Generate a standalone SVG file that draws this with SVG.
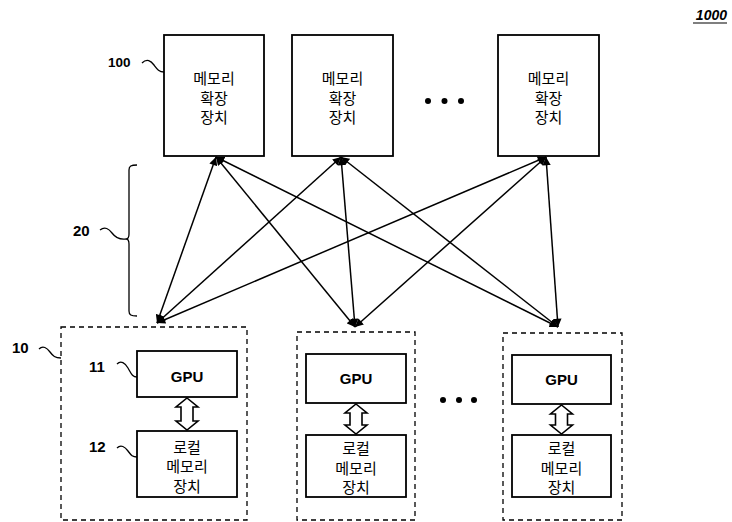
<svg xmlns="http://www.w3.org/2000/svg" width="732" height="522" viewBox="0 0 732 522">
<style>
.box{fill:#fff;stroke:#000;stroke-width:1.8}
.dash{fill:none;stroke:#000;stroke-width:1.3;stroke-dasharray:5 4}
.kr{font-family:"Noto Sans CJK KR","Noto Sans",sans-serif;font-size:15px;text-anchor:middle;fill:#000}
.gpu{font-family:"Liberation Sans",Arial,sans-serif;font-size:15px;font-weight:bold;text-anchor:middle}
.lbl{font-family:"Liberation Sans",Arial,sans-serif;font-size:15px;font-weight:bold}
.sq{fill:none;stroke:#000;stroke-width:1.3}
.ln{stroke:#000;stroke-width:1.5;fill:none;marker-start:url(#ah);marker-end:url(#ah)}
.blk{fill:#fff;stroke:#000;stroke-width:1.6;stroke-linejoin:miter}
</style>
<defs>
<marker id="ah" viewBox="0 0 10 10" refX="10" refY="5" markerWidth="6" markerHeight="5.5" orient="auto-start-reverse" markerUnits="strokeWidth">
<path d="M0,0 L10,5 L0,10 Z" fill="#000"/>
</marker>
</defs>

<text x="727" y="20" font-family="Liberation Sans, Arial, sans-serif" font-size="14" font-weight="bold" font-style="italic" text-anchor="end">1000</text>
<line x1="693" y1="23" x2="727" y2="23" stroke="#000" stroke-width="1.2"/>

<g id="mem1">
<rect class="box" x="164" y="35" width="100" height="121"/>
<text class="kr" x="214" y="84">메모리</text>
<text class="kr" x="214" y="104">확장</text>
<text class="kr" x="214" y="123">장치</text>
</g>
<g id="mem2">
<rect class="box" x="292" y="35" width="101" height="121"/>
<text class="kr" x="342.5" y="84">메모리</text>
<text class="kr" x="342.5" y="104">확장</text>
<text class="kr" x="342.5" y="123">장치</text>
</g>
<g id="mem3">
<rect class="box" x="498" y="35" width="101" height="121"/>
<text class="kr" x="548.5" y="84">메모리</text>
<text class="kr" x="548.5" y="104">확장</text>
<text class="kr" x="548.5" y="123">장치</text>
</g>
<g id="dots-top">
<circle cx="428" cy="101" r="3"/>
<circle cx="444.5" cy="101" r="3"/>
<circle cx="461" cy="101" r="3"/>
</g>

<g id="label-100">
<text x="108" y="67" font-family="Liberation Sans, Arial, sans-serif" font-size="13.5" font-weight="bold">100</text>
<path class="sq" d="M142,63 C147,58 151,61 154,65 S159,72 164,72"/>
</g>

<g id="label-20">
<text class="lbl" x="73" y="236">20</text>
<path class="sq" d="M100,230 C105,226 109,229 112,233 S119,240 126,239"/>
<path class="sq" d="M137,165 C131,165 129,166 129,170 L129,234 C129,237 128,239 126,239 C128,239 129,241 129,244 L129,311 C129,315 131,316 137,316"/>
</g>

<g id="gpuA">
<rect class="dash" x="61" y="327" width="186" height="193"/>
<rect class="box" x="137" y="351" width="100" height="46"/>
<text class="gpu" x="187" y="382">GPU</text>
<path class="blk" d="M187,398 L198,407 L193,407 L193,421 L198,421 L187,430 L176,421 L181,421 L181,407 L176,407 Z"/>
<rect class="box" x="137" y="431" width="100" height="66"/>
<text class="kr" x="187" y="453">로컬</text>
<text class="kr" x="187" y="472">메모리</text>
<text class="kr" x="187" y="492">장치</text>
</g>
<g id="label-10">
<text class="lbl" x="12" y="353">10</text>
<path class="sq" d="M39,349 C43,345 47,348 50,352 S55,358 61,358"/>
<text class="lbl" x="89" y="372">11</text>
<path class="sq" d="M117,364 C121,360 125,363 128,368 S132,377 137,377"/>
<text class="lbl" x="89" y="452">12</text>
<path class="sq" d="M117,448 C121,444 125,447 128,451 S132,457 137,457"/>
</g>

<g id="gpuB">
<rect class="dash" x="297" y="332" width="118" height="188"/>
<rect class="box" x="306" y="354" width="100" height="49"/>
<text class="gpu" x="356" y="384">GPU</text>
<path class="blk" d="M356,404 L367,413 L362,413 L362,425 L367,425 L356,434 L345,425 L350,425 L350,413 L345,413 Z"/>
<rect class="box" x="306" y="435" width="100" height="62"/>
<text class="kr" x="356" y="454">로컬</text>
<text class="kr" x="356" y="474">메모리</text>
<text class="kr" x="356" y="493">장치</text>
</g>
<g id="dots-bottom">
<circle cx="443" cy="400" r="3"/>
<circle cx="459" cy="400" r="3"/>
<circle cx="474" cy="400" r="3"/>
</g>

<g id="gpuC">
<rect class="dash" x="503" y="333" width="119" height="187"/>
<rect class="box" x="512" y="355" width="99" height="49"/>
<text class="gpu" x="561.5" y="385">GPU</text>
<path class="blk" d="M561.5,405 L572.5,414 L567.5,414 L567.5,425 L572.5,425 L561.5,434 L550.5,425 L555.5,425 L555.5,414 L550.5,414 Z"/>
<rect class="box" x="512" y="435" width="99" height="62"/>
<text class="kr" x="561.5" y="454">로컬</text>
<text class="kr" x="561.5" y="474">메모리</text>
<text class="kr" x="561.5" y="493">장치</text>
</g>

<g id="connectors">
<line class="ln" x1="216" y1="157" x2="157" y2="323"/>
<line class="ln" x1="216" y1="157" x2="355" y2="327"/>
<line class="ln" x1="216" y1="157" x2="558" y2="327"/>
<line class="ln" x1="341" y1="157" x2="157" y2="323"/>
<line class="ln" x1="341" y1="157" x2="355" y2="327"/>
<line class="ln" x1="341" y1="157" x2="558" y2="327"/>
<line class="ln" x1="546" y1="157" x2="157" y2="323"/>
<line class="ln" x1="546" y1="157" x2="355" y2="327"/>
<line class="ln" x1="546" y1="157" x2="558" y2="327"/>
</g>
</svg>
